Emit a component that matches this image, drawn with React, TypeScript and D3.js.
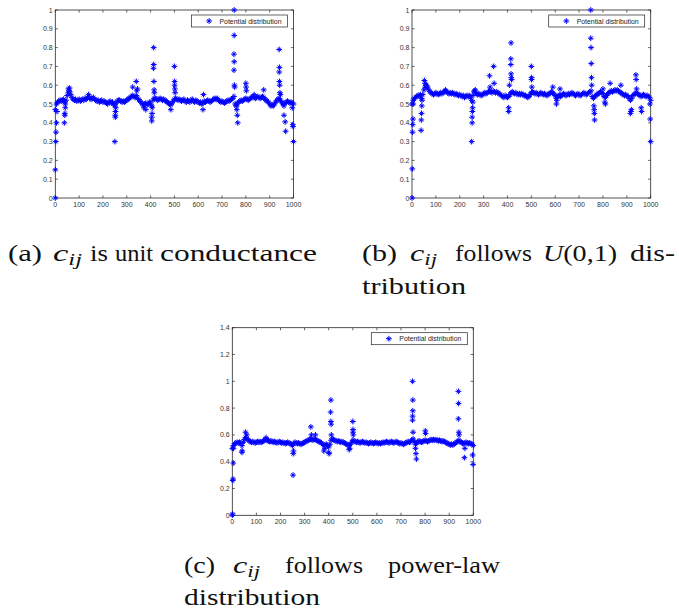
import * as d3 from 'd3'

// node index of band sample i is i * NODE_STEP
const NODE_STEP = 5
const N_NODES = 1000

// (a) unit conductance
const BAND_A = [
  0.47, 0.5, 0.51, 0.515, 0.52, 0.515, 0.52, 0.525, 0.51, 0.52, 0.545, 0.56, 0.565, 0.55, 0.535, 0.525, 0.52, 0.525, 0.515, 0.52,
  0.525, 0.515, 0.52, 0.525, 0.52, 0.53, 0.525, 0.535, 0.54, 0.53, 0.525, 0.53, 0.535, 0.525, 0.52, 0.515, 0.52, 0.51, 0.515, 0.52,
  0.51, 0.515, 0.51, 0.505, 0.5, 0.51, 0.515, 0.505, 0.51, 0.5, 0.49, 0.505, 0.515, 0.52, 0.52, 0.515, 0.51, 0.515, 0.51, 0.515,
  0.52, 0.525, 0.53, 0.535, 0.54, 0.545, 0.54, 0.535, 0.545, 0.53, 0.525, 0.515, 0.51, 0.5, 0.495, 0.5, 0.505, 0.495, 0.5, 0.51,
  0.5, 0.49, 0.52, 0.53, 0.53, 0.525, 0.52, 0.525, 0.53, 0.525, 0.52, 0.525, 0.52, 0.515, 0.51, 0.505, 0.5, 0.495, 0.505, 0.515,
  0.525, 0.53, 0.525, 0.52, 0.525, 0.52, 0.515, 0.52, 0.525, 0.515, 0.51, 0.52, 0.515, 0.51, 0.52, 0.525, 0.515, 0.51, 0.52, 0.515,
  0.51, 0.505, 0.51, 0.5, 0.505, 0.515, 0.51, 0.515, 0.52, 0.515, 0.51, 0.515, 0.52, 0.525, 0.53, 0.525, 0.53, 0.52, 0.515, 0.51,
  0.515, 0.51, 0.505, 0.51, 0.515, 0.52, 0.515, 0.52, 0.525, 0.53, 0.54, 0.5, 0.49, 0.505, 0.51, 0.515, 0.52, 0.515, 0.52, 0.525,
  0.53, 0.525, 0.52, 0.525, 0.53, 0.535, 0.54, 0.535, 0.53, 0.535, 0.54, 0.535, 0.53, 0.535, 0.54, 0.535, 0.525, 0.52, 0.515, 0.51,
  0.5, 0.49, 0.495, 0.49, 0.5, 0.51, 0.52, 0.525, 0.53, 0.52, 0.51, 0.5, 0.49, 0.505, 0.51, 0.515, 0.51, 0.505, 0.51, 0.505,
  0.5,
]
const SPIKES_A: [number, number][] = [
  [0, 0], [0, 0.15], [2, 0.3], [3, 0.35], [5, 0.4], [7, 0.46],
  [38, 0.4], [40, 0.44], [40, 0.45], [42, 0.48], [42, 0.5], [55, 0.58], [60, 0.585], [58, 0.57],
  [140, 0.55], [250, 0.3], [252, 0.43], [252, 0.44], [253, 0.46], [254, 0.48],
  [325, 0.59], [340, 0.62], [342, 0.57], [345, 0.58], [372, 0.48], [380, 0.47],
  [405, 0.41], [405, 0.43], [406, 0.45], [407, 0.48],
  [413, 0.8], [413, 0.71], [412, 0.69], [414, 0.62], [415, 0.575], [416, 0.56],
  [485, 0.47], [500, 0.7], [501, 0.62], [501, 0.6], [502, 0.58], [503, 0.56],
  [620, 0.47], [622, 0.55],
  [751, 1.0], [751, 0.865], [750, 0.765], [751, 0.725], [750, 0.68], [752, 0.6], [753, 0.59],
  [760, 0.49], [762, 0.47], [764, 0.44], [766, 0.4],
  [800, 0.61], [801, 0.59], [802, 0.57], [835, 0.55], [875, 0.575],
  [940, 0.79], [941, 0.695], [940, 0.67], [941, 0.62], [942, 0.6], [943, 0.56], [945, 0.55],
  [960, 0.44], [965, 0.405], [967, 0.355], [995, 0.48], [997, 0.39], [998, 0.38], [1000, 0.3],
]

// (b) U(0,1) conductance
const BAND_B = [
  0.5, 0.52, 0.53, 0.535, 0.54, 0.545, 0.545, 0.55, 0.53, 0.55, 0.575, 0.59, 0.6, 0.59, 0.575, 0.565, 0.56, 0.555, 0.55, 0.555,
  0.56, 0.555, 0.55, 0.555, 0.56, 0.555, 0.56, 0.565, 0.57, 0.565, 0.56, 0.555, 0.56, 0.555, 0.56, 0.555, 0.55, 0.555, 0.55, 0.545,
  0.55, 0.545, 0.54, 0.545, 0.535, 0.54, 0.545, 0.54, 0.545, 0.535, 0.52, 0.545, 0.565, 0.56, 0.555, 0.55, 0.555, 0.55, 0.545, 0.55,
  0.555, 0.56, 0.555, 0.56, 0.565, 0.57, 0.565, 0.56, 0.57, 0.565, 0.56, 0.565, 0.56, 0.555, 0.55, 0.545, 0.54, 0.535, 0.545, 0.54,
  0.535, 0.54, 0.55, 0.56, 0.565, 0.56, 0.555, 0.56, 0.555, 0.55, 0.555, 0.55, 0.555, 0.55, 0.545, 0.545, 0.54, 0.535, 0.54, 0.55,
  0.56, 0.565, 0.56, 0.555, 0.56, 0.555, 0.55, 0.555, 0.56, 0.555, 0.55, 0.555, 0.55, 0.545, 0.55, 0.555, 0.56, 0.565, 0.56, 0.55,
  0.545, 0.53, 0.54, 0.545, 0.55, 0.545, 0.55, 0.555, 0.55, 0.545, 0.55, 0.555, 0.55, 0.555, 0.56, 0.555, 0.55, 0.545, 0.55, 0.555,
  0.55, 0.545, 0.55, 0.555, 0.56, 0.555, 0.55, 0.555, 0.56, 0.565, 0.57, 0.54, 0.53, 0.54, 0.545, 0.55, 0.555, 0.56, 0.565, 0.56,
  0.555, 0.54, 0.535, 0.545, 0.555, 0.56, 0.565, 0.57, 0.565, 0.57, 0.575, 0.57, 0.575, 0.57, 0.565, 0.56, 0.555, 0.55, 0.545, 0.55,
  0.545, 0.54, 0.53, 0.52, 0.53, 0.545, 0.55, 0.555, 0.56, 0.555, 0.55, 0.545, 0.54, 0.545, 0.55, 0.545, 0.54, 0.545, 0.54, 0.535,
  0.52,
]
const SPIKES_B: [number, number][] = [
  [0, 0], [1, 0.155], [2, 0.35], [3, 0.39], [4, 0.42], [5, 0.5],
  [38, 0.36], [39, 0.415], [40, 0.45], [41, 0.49], [42, 0.52], [52, 0.625], [55, 0.61], [58, 0.6], [62, 0.59],
  [140, 0.575], [250, 0.3], [252, 0.4], [252, 0.43], [253, 0.46], [254, 0.48], [255, 0.51], [262, 0.57], [265, 0.575],
  [325, 0.65], [327, 0.59], [342, 0.7], [344, 0.61],
  [405, 0.46], [405, 0.48], [408, 0.6],
  [415, 0.825], [414, 0.74], [414, 0.71], [415, 0.66], [416, 0.64], [417, 0.63],
  [500, 0.7], [501, 0.64], [501, 0.63], [502, 0.59],
  [590, 0.59], [605, 0.5], [607, 0.52], [620, 0.58], [622, 0.54],
  [749, 1.0], [749, 0.85], [750, 0.8], [751, 0.715], [752, 0.64], [753, 0.6],
  [762, 0.49], [763, 0.47], [764, 0.45], [765, 0.415],
  [800, 0.58], [808, 0.51], [810, 0.5], [830, 0.61], [875, 0.6],
  [915, 0.45], [917, 0.46], [919, 0.47], [938, 0.655], [939, 0.63], [941, 0.58],
  [960, 0.48], [962, 0.46], [997, 0.5], [998, 0.42], [1000, 0.3],
]

// (c) power-law conductance
const BAND_C = [
  0.5, 0.52, 0.535, 0.54, 0.545, 0.54, 0.545, 0.54, 0.52, 0.545, 0.565, 0.58, 0.575, 0.565, 0.555, 0.55, 0.545, 0.55, 0.545, 0.54,
  0.545, 0.55, 0.545, 0.55, 0.545, 0.55, 0.555, 0.56, 0.565, 0.56, 0.555, 0.55, 0.555, 0.55, 0.545, 0.55, 0.545, 0.54, 0.545, 0.55,
  0.545, 0.54, 0.545, 0.54, 0.535, 0.54, 0.545, 0.54, 0.535, 0.53, 0.52, 0.535, 0.545, 0.54, 0.535, 0.54, 0.535, 0.53, 0.535, 0.54,
  0.545, 0.55, 0.555, 0.56, 0.565, 0.57, 0.565, 0.56, 0.57, 0.565, 0.56, 0.555, 0.55, 0.545, 0.54, 0.53, 0.52, 0.525, 0.53, 0.52,
  0.51, 0.53, 0.56, 0.57, 0.565, 0.56, 0.555, 0.55, 0.555, 0.55, 0.545, 0.55, 0.545, 0.54, 0.535, 0.53, 0.525, 0.52, 0.53, 0.545,
  0.56, 0.555, 0.55, 0.545, 0.55, 0.545, 0.54, 0.545, 0.55, 0.545, 0.54, 0.545, 0.54, 0.535, 0.54, 0.545, 0.54, 0.535, 0.54, 0.545,
  0.54, 0.535, 0.54, 0.535, 0.54, 0.545, 0.54, 0.545, 0.55, 0.545, 0.54, 0.545, 0.55, 0.545, 0.54, 0.545, 0.55, 0.545, 0.54, 0.535,
  0.54, 0.535, 0.53, 0.535, 0.54, 0.545, 0.55, 0.545, 0.55, 0.56, 0.57, 0.55, 0.53, 0.54, 0.55, 0.555, 0.55, 0.545, 0.55, 0.555,
  0.56, 0.555, 0.55, 0.555, 0.56, 0.565, 0.56, 0.565, 0.56, 0.565, 0.56, 0.555, 0.56, 0.555, 0.55, 0.555, 0.55, 0.545, 0.54, 0.535,
  0.53, 0.525, 0.53, 0.525, 0.53, 0.54, 0.545, 0.55, 0.56, 0.55, 0.545, 0.54, 0.535, 0.54, 0.545, 0.54, 0.535, 0.54, 0.535, 0.53,
  0.52,
]
const SPIKES_C: [number, number][] = [
  [0, 0], [1, 0.01], [2, 0.26], [3, 0.27], [4, 0.39], [5, 0.5],
  [40, 0.47], [41, 0.48], [55, 0.62], [60, 0.6], [140, 0.58],
  [252, 0.3], [253, 0.46], [254, 0.48], [326, 0.66], [328, 0.6], [345, 0.6],
  [380, 0.48], [384, 0.5], [400, 0.47], [402, 0.46],
  [409, 0.86], [408, 0.77], [409, 0.7], [410, 0.68], [411, 0.6],
  [485, 0.49], [487, 0.5], [500, 0.7], [501, 0.64], [501, 0.62], [502, 0.6],
  [748, 1.0], [749, 0.86], [749, 0.78], [748, 0.74], [748, 0.71], [750, 0.62],
  [760, 0.5], [762, 0.46], [764, 0.42], [801, 0.63], [802, 0.61],
  [938, 0.925], [939, 0.835], [938, 0.72], [940, 0.62], [941, 0.6],
  [963, 0.43], [965, 0.5], [997, 0.45], [999, 0.38],
]

const LEGEND_LABEL = 'Potential distribution'

const W = 679
const H = 616
const BLUE = '#0000ff'
const AXIS = '#262626'
const TICK_FONT = 'Liberation Sans, Arial, sans-serif'
const CAP_FONT = 'Liberation Serif, DejaVu Serif, serif'
const TICK_LEN = 2.6

// MATLAB '*' marker
const STAR = 'M-2.9,0H2.9M0,-2.9V2.9M-1.8,-1.8L1.8,1.8M-1.8,1.8L1.8,-1.8'

interface Box { left: number; right: number; top: number; bottom: number }

interface PlotProps {
  band: number[]
  spikes: [number, number][]
  yMax: number
  yTicks: number
  box: Box
}

const fmt = d3.format('~g')

function Plot({ band, spikes, yMax, yTicks, box }: PlotProps) {
  const x = d3.scaleLinear().domain([0, N_NODES]).range([box.left, box.right])
  const y = d3.scaleLinear().domain([0, yMax]).range([box.bottom, box.top])
  const pts: [number, number][] = band.map((v, i) => [i * NODE_STEP, v] as [number, number]).concat(spikes)

  const lg = { w: 96, h: 12 }
  const lgX = box.right - 6 - lg.w
  const lgY = box.top + 5

  return (
    <g>
      <rect x={box.left} y={box.top} width={box.right - box.left} height={box.bottom - box.top} fill="#fff" />
      {x.ticks(10).map((t) => (
        <g key={'x' + t}>
          <line x1={x(t)} x2={x(t)} y1={box.bottom} y2={box.bottom - TICK_LEN} stroke={AXIS} strokeWidth={0.7} />
          <line x1={x(t)} x2={x(t)} y1={box.top} y2={box.top + TICK_LEN} stroke={AXIS} strokeWidth={0.7} />
          <text x={x(t)} y={box.bottom + 8.6} fontSize={7} style={{ fontFamily: TICK_FONT }} fill="#333" textAnchor="middle">
            {fmt(t)}
          </text>
        </g>
      ))}
      {y.ticks(yTicks).map((t) => (
        <g key={'y' + t}>
          <line x1={box.left} x2={box.left + TICK_LEN} y1={y(t)} y2={y(t)} stroke={AXIS} strokeWidth={0.7} />
          <line x1={box.right} x2={box.right - TICK_LEN} y1={y(t)} y2={y(t)} stroke={AXIS} strokeWidth={0.7} />
          <text x={box.left - 2.6} y={y(t) + 2.5} fontSize={7} style={{ fontFamily: TICK_FONT }} fill="#333" textAnchor="end">
            {fmt(t)}
          </text>
        </g>
      ))}
      <rect
        x={box.left}
        y={box.top}
        width={box.right - box.left}
        height={box.bottom - box.top}
        fill="none"
        stroke={AXIS}
        strokeWidth={0.8}
      />
      <g stroke={BLUE} strokeWidth={1} fill="none">
        {pts.map(([n, v], i) => (
          <path key={i} d={STAR} transform={`translate(${x(n)},${y(v)})`} />
        ))}
      </g>
      {/* Legend */}
      <rect x={lgX} y={lgY} width={lg.w} height={lg.h} fill="#fff" stroke={AXIS} strokeWidth={0.7} />
      <path d={STAR} transform={`translate(${lgX + 17.6},${lgY + lg.h / 2})`} stroke={BLUE} strokeWidth={1} fill="none" />
      <text
        x={lgX + 28}
        y={lgY + lg.h / 2 + 2.5}
        fontSize={7}
        style={{ fontFamily: TICK_FONT }}
        fill="#222"
        textLength={62}
        lengthAdjust="spacingAndGlyphs"
      >
        {LEGEND_LABEL}
      </text>
    </g>
  )
}

interface WordProps { x: number; y: number; w: number; children: React.ReactNode }

function Word({ x, y, w, children }: WordProps) {
  return (
    <text x={x} y={y} fontSize={24} style={{ fontFamily: CAP_FONT }} fill="#111" textLength={w} lengthAdjust="spacingAndGlyphs">
      {children}
    </text>
  )
}

function Cij() {
  return (
    <>
      <tspan fontStyle="italic">c</tspan>
      <tspan fontStyle="italic" fontSize={17} dy={4}>ij</tspan>
    </>
  )
}

export default function App() {
  return (
    <svg width={W} height={H} style={{ position: 'absolute', left: 0, top: 0 }} xmlns="http://www.w3.org/2000/svg">
      <rect width={W} height={H} fill="#fff" />
      <Plot band={BAND_A} spikes={SPIKES_A} yMax={1} yTicks={10} box={{ left: 55.3, right: 293.5, top: 10, bottom: 198 }} />
      <Plot band={BAND_B} spikes={SPIKES_B} yMax={1} yTicks={10} box={{ left: 412, right: 650.7, top: 10, bottom: 198 }} />
      <Plot band={BAND_C} spikes={SPIKES_C} yMax={1.4} yTicks={7} box={{ left: 232.3, right: 473.3, top: 327.7, bottom: 515.3 }} />

      {/* (a) */}
      <Word x={8} y={261} w={34}>(a)</Word>
      <Word x={53} y={261} w={29}><Cij /></Word>
      <Word x={90} y={261} w={18}>is</Word>
      <Word x={115} y={261} w={38}>unit</Word>
      <Word x={160} y={261} w={157}>conductance</Word>

      {/* (b) */}
      <Word x={362} y={261} w={35}>(b)</Word>
      <Word x={410} y={261} w={27}><Cij /></Word>
      <Word x={455} y={261} w={77}>follows</Word>
      <Word x={543} y={261} w={74}>
        <tspan fontStyle="italic">U</tspan>(0,1)
      </Word>
      <Word x={630} y={261} w={45}>dis-</Word>
      <Word x={362} y={294} w={104}>tribution</Word>

      {/* (c) */}
      <Word x={184} y={573} w={31}>(c)</Word>
      <Word x={233} y={573} w={27}><Cij /></Word>
      <Word x={285} y={573} w={78}>follows</Word>
      <Word x={388} y={573} w={112}>power-law</Word>
      <Word x={184} y={605} w={136}>distribution</Word>
    </svg>
  )
}
